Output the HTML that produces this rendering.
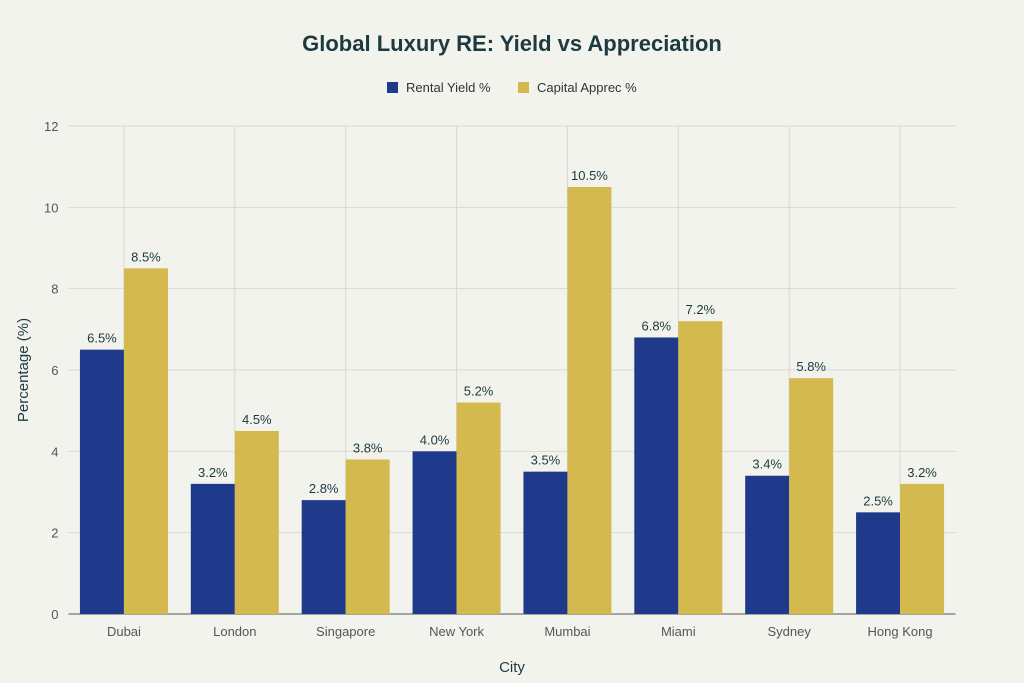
<!DOCTYPE html>
<html><head><meta charset="utf-8"><style>
body{margin:0;background:#f3f3ee;font-family:"Liberation Sans",sans-serif;}
svg{display:block}
</style></head><body>
<svg id="chart" width="1024" height="683">
<rect width="1024" height="683" fill="#f3f3ee"/>
<text x="512" y="51" text-anchor="middle" font-size="22" font-weight="bold" fill="#1c3a3f">Global Luxury RE: Yield vs Appreciation</text>
<g>
<rect x="387" y="82" width="11" height="11" fill="#1f3a8a"/>
<text x="406" y="92" font-size="13" fill="#333">Rental Yield %</text>
<rect x="518" y="82" width="11" height="11" fill="#d4b94e"/>
<text x="537" y="92" font-size="13" fill="#333">Capital Apprec %</text>
</g>
<g id="grid"></g><g id="bars"></g><g id="axes"></g>
<text x="512" y="672" text-anchor="middle" font-size="15" fill="#1c3a3f">City</text>
<text transform="translate(28,370) rotate(-90)" text-anchor="middle" font-size="15" fill="#1c3a3f">Percentage (%)</text>
</svg>
<script>
const categories=["Dubai","London","Singapore","New York","Mumbai","Miami","Sydney","Hong Kong"];
const rentalYield=[6.5,3.2,2.8,4.0,3.5,6.8,3.4,2.5];
const capitalApprec=[8.5,4.5,3.8,5.2,10.5,7.2,5.8,3.2];
const yTicks=[0,2,4,6,8,10,12];
const NS="http://www.w3.org/2000/svg";
const x0=68.5,x1=955.5,yBase=614,yTop=126,yMax=12;
const band=(x1-x0)/categories.length;
const xc=i=>x0+band*(i+0.5);
const y=v=>yBase-(v/yMax)*(yBase-yTop);
function mk(tag,attrs,parent,text){const e=document.createElementNS(NS,tag);for(const k in attrs)e.setAttribute(k,attrs[k]);if(text!==undefined)e.textContent=text;parent.appendChild(e);return e;}
const grid=document.getElementById('grid'),bars=document.getElementById('bars'),axes=document.getElementById('axes');
yTicks.forEach(t=>{
 const l=mk('line',{x1:x0,x2:x1,y1:y(t),y2:y(t),stroke:t===0?'#555':'#d8d8d2','stroke-width':1},grid);
 
 
 const tx=mk('text',{x:x0-10,y:y(t)+5,'text-anchor':'end','font-size':13,fill:'#555'},axes,String(t));
 
 
});
categories.forEach((c,i)=>{
 const l=mk('line',{x1:xc(i),x2:xc(i),y1:yTop,y2:yBase,stroke:'#d8d8d2','stroke-width':1},grid);
 
 
 const tx=mk('text',{x:xc(i),y:yBase+22,'text-anchor':'middle','font-size':13,fill:'#555'},axes,c);
 
 
 const bw=44;
 [[rentalYield[i],'#1f3a8a',xc(i)-bw,'bar-rental'],[capitalApprec[i],'#d4b94e',xc(i),'bar-capital']].forEach(([v,col,bx,nm])=>{
  const r=mk('rect',{x:bx,y:y(v),width:bw,height:yBase-y(v),fill:col},bars);
  
  
  const lb=mk('text',{x:bx+bw/2,y:y(v)-7,'text-anchor':'middle','font-size':13,fill:'#1c3a3f'},bars,v.toFixed(1)+'%');
  
  
 });
});
</script>
</body></html>
